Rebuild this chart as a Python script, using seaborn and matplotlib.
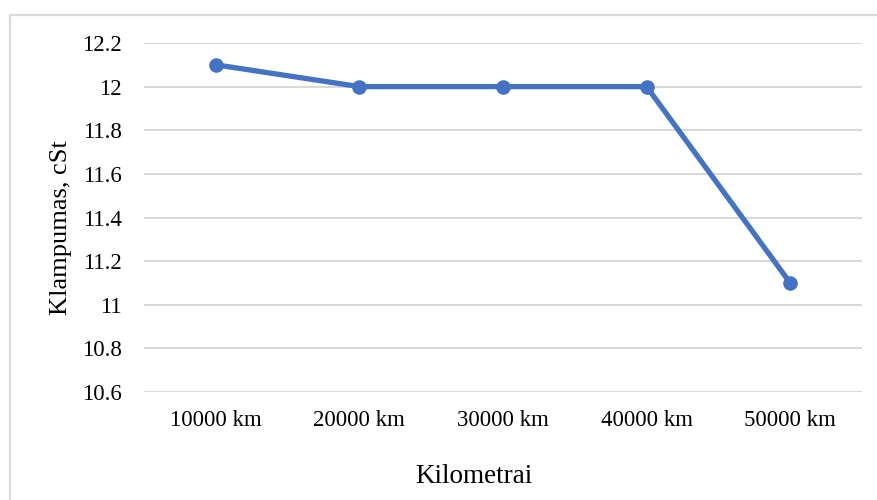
import matplotlib
matplotlib.use("Agg")
import matplotlib.pyplot as plt
from matplotlib.lines import Line2D
import seaborn as sns
import pandas as pd

categories = ["10000 km", "20000 km", "30000 km", "40000 km", "50000 km"]
viscosity = [12.1, 12.0, 12.0, 12.0, 11.1]
y_ticks = [10.6, 10.8, 11.0, 11.2, 11.4, 11.6, 11.8, 12.0, 12.2]
y_tick_labels = ["10.6", "10.8", "11", "11.2", "11.4", "11.6", "11.8", "12", "12.2"]

sns.set_theme(style="white")
plt.rcParams["font.family"] = ["Liberation Serif", "DejaVu Serif"]

df = pd.DataFrame({"km": categories, "cst": viscosity})

W, H = 877, 500
fig = plt.figure(figsize=(W / 100, H / 100), dpi=100)
ax = fig.add_axes([144 / W, 1 - 392 / H, (862 - 144) / W, (392 - 43) / H])

sns.lineplot(data=df, x="km", y="cst", ax=ax, color="#4472C4", linewidth=3.8,
             marker="o", markersize=10.5, markeredgewidth=0, sort=False, zorder=3)

ax.set_xlim(-0.5, len(categories) - 0.5)
ax.set_ylim(10.6, 12.2)
ax.set_yticks(y_ticks)
ax.set_yticklabels(y_tick_labels)
ax.yaxis.grid(True, color="#D9D9D9", linewidth=1.5)
ax.xaxis.grid(False)
for s in ax.spines.values():
    s.set_visible(False)
ax.tick_params(axis="y", length=0, pad=16, labelsize=16.5, labelcolor="#000000")
ax.tick_params(axis="x", length=0, pad=13, labelsize=16.5, labelcolor="#000000")
ax.set_xlabel("")
ax.set_ylabel("")

# axis titles, placed in chart-area pixels
fig.text(474 / W, 1 - 483 / H, "Kilometrai", fontsize=19.5, color="#000000",
         ha="center", va="baseline")
fig.text(67 / W, 1 - 228 / H, "Klampumas, cSt", fontsize=19, color="#000000",
         ha="center", va="baseline", rotation=90, rotation_mode="anchor")

# chart frame
frame_color = "#D9D9D9"
fig.add_artist(Line2D([9.5 / W, 9.5 / W], [0, 1 - 14.5 / H],
                      transform=fig.transFigure, color=frame_color, linewidth=1.6))
fig.add_artist(Line2D([9.5 / W, 1], [1 - 14.5 / H, 1 - 14.5 / H],
                      transform=fig.transFigure, color=frame_color, linewidth=1.6))

fig.savefig("out.png", dpi=100, facecolor="white")
